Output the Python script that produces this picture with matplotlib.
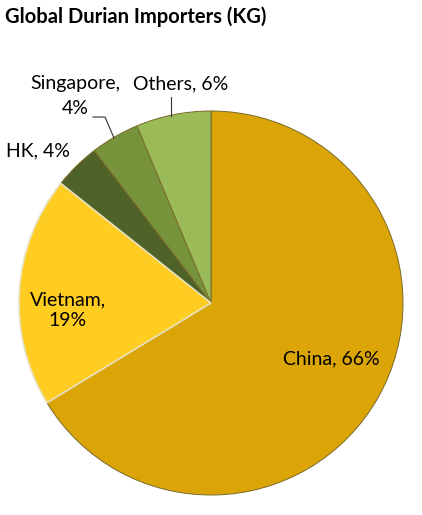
import numpy as np
import matplotlib
matplotlib.use("Agg")
import matplotlib.pyplot as plt

# share of imports by weight
countries = ["China", "Vietnam", "HK", "Singapore", "Others"]
shares = [66.3, 19.4, 3.9, 4.1, 6.3]
shown = ["66%", "19%", "4%", "4%", "6%"]
colors = ["#DBA507", "#FFCC22", "#4F6228", "#77933C", "#9BBB59"]

plt.rcParams["font.family"] = ["Lato", "DejaVu Sans"]

W, H = 422, 515
fig = plt.figure(figsize=(W / 100, H / 100), dpi=100)
ax = fig.add_axes([0, 0, 1, 1])

cx, cy, r = 211, H - 303, 192
wedges, _ = ax.pie(shares, colors=colors, startangle=90, counterclock=False,
                   center=(cx, cy), radius=r, frame=True,
                   wedgeprops=dict(edgecolor="#7a6a2a", linewidth=0.7))
# light seam between China and Vietnam like the original
wedges[1].set_edgecolor("#e8e2c0")
wedges[1].set_linewidth(1.2)
wedges[1].set_zorder(wedges[0].get_zorder() + 0.1)

ax.set_xlim(0, W)
ax.set_ylim(0, H)
ax.set_aspect("equal")
ax.axis("off")

fig.text(5 / W, 1 - 17 / H, "Global Durian Importers (KG)", fontsize=14.5,
         fontweight="bold", ha="left", va="center")

fs = 14
ax.text(331, H - 359, f"{countries[0]}, {shown[0]}", fontsize=fs, ha="center", va="center")
ax.text(68, H - 310, f"{countries[1]},\n{shown[1]}", fontsize=fs, ha="center", va="center",
        linespacing=1.25)
ax.text(38, H - 151, f"{countries[2]}, {shown[2]}", fontsize=fs, ha="center", va="center")
ax.text(75, H - 84, f"{countries[3]},", fontsize=fs, ha="center", va="center")
ax.text(75, H - 108, shown[3], fontsize=fs, ha="center", va="center")
ax.text(181, H - 84, f"{countries[4]}, {shown[4]}", fontsize=fs, ha="center", va="center")

# leader lines
ax.plot([93, 105, 114], [H - 117, H - 117, H - 138], color="#333333", lw=0.8)
ax.plot([171, 171], [H - 97, H - 116], color="#333333", lw=0.8)

fig.savefig("out.png", dpi=100)
